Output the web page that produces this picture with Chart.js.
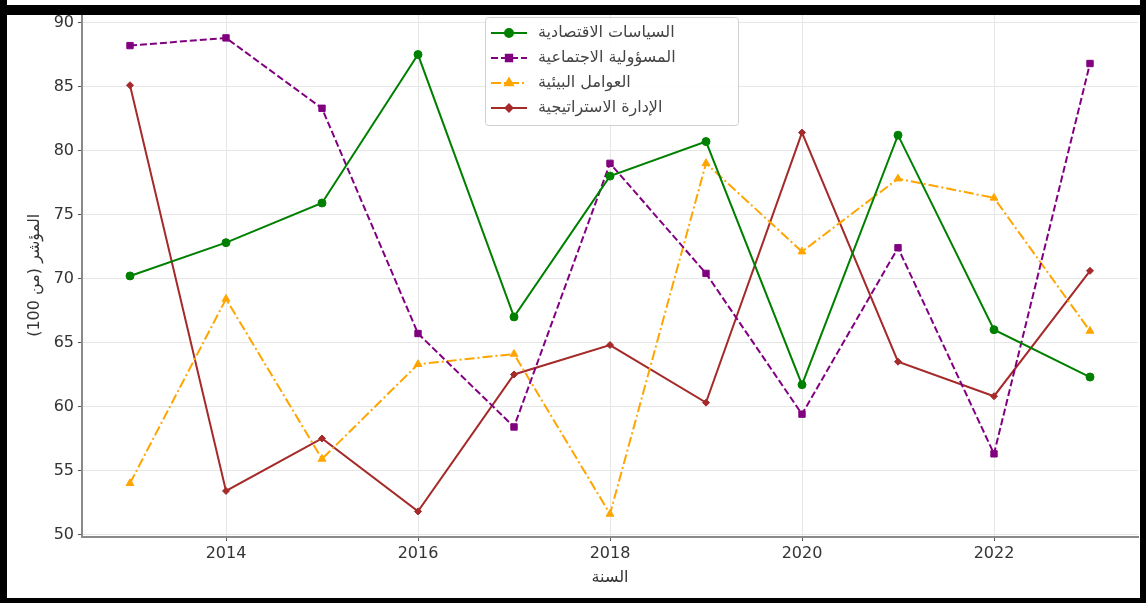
<!DOCTYPE html>
<html>
<head>
<meta charset="utf-8">
<script src="https://cdn.jsdelivr.net/npm/chart.js@4.4.1/dist/chart.umd.min.js"></script>
<style>
  html, body { margin: 0; padding: 0; background: #fff; }
  #wrap { position: relative; width: 1146px; height: 603px; overflow: hidden; }
  #chart1 { position: absolute; left: 0; top: 0; }
  .frame { position: absolute; background: #000; }
</style>
</head>
<body>
<div id="wrap">
  <canvas id="chart1" width="1146" height="603" dir="rtl"></canvas>
  <div class="frame" style="left:0;top:5px;width:1146px;height:10px"></div>
  <div class="frame" style="left:0;top:0;width:7px;height:603px"></div>
  <div class="frame" style="left:1140px;top:0;width:6px;height:603px"></div>
  <div class="frame" style="left:0;top:598px;width:1146px;height:5px"></div>
</div>
<script>
// years on the x axis
const years = [2013, 2014, 2015, 2016, 2017, 2018, 2019, 2020, 2021, 2022, 2023];

// series (index out of 100)
const economicPolicy = [70.2, 72.8, 75.9, 87.5, 67.0, 78.0, 80.7, 61.7, 81.2, 66.0, 62.3];
const socialResponsibility = [88.2, 88.8, 83.3, 65.7, 58.4, 79.0, 70.4, 59.4, 72.4, 56.3, 86.8];
const environmentalFactors = [54.0, 68.4, 55.9, 63.3, 64.1, 51.6, 79.0, 72.1, 77.8, 76.3, 65.9];
const strategicManagement = [85.1, 53.4, 57.5, 51.8, 62.5, 64.8, 60.3, 81.4, 63.5, 60.8, 70.6];

const seriesNames = ['السياسات الاقتصادية', 'المسؤولية الاجتماعية', 'العوامل البيئية', 'الإدارة الاستراتيجية'];

// tick labels
const xTicks = [2014, 2016, 2018, 2020, 2022];
const yTicks = [50, 55, 60, 65, 70, 75, 80, 85, 90];

const xTitle = 'السنة';
const yTitle = 'المؤشر (من 100)';

function toPoints(arr) {
  return arr.map((v, i) => ({ x: years[i], y: v }));
}

const datasets = [
  { label: seriesNames[0], data: toPoints(economicPolicy), borderColor: '#008000', backgroundColor: '#008000',
    pointStyle: 'circle', pointRadius: 4, borderDash: [] },
  { label: seriesNames[1], data: toPoints(socialResponsibility), borderColor: '#800080', backgroundColor: '#800080',
    pointStyle: 'rect', pointRadius: 4.5, borderDash: [7, 3] },
  { label: seriesNames[2], data: toPoints(environmentalFactors), borderColor: '#FFA500', backgroundColor: '#FFA500',
    pointStyle: 'triangle', pointRadius: 4.5, borderDash: [10, 3, 2, 3] },
  { label: seriesNames[3], data: toPoints(strategicManagement), borderColor: '#A52A2A', backgroundColor: '#A52A2A',
    pointStyle: 'rectRot', pointRadius: 3.5, borderDash: [] }
];
datasets.forEach(d => { d.borderWidth = 2; d.pointBorderWidth = 1; d.tension = 0; d.pointHoverRadius = d.pointRadius; });

/* legend drawn inside the plot, like the matplotlib one */
const boxLegend = {
  id: 'boxLegend',
  afterDraw(chart) {
    const ctx = chart.ctx;
    const x0 = 485, y0 = 17, w = 253, h = 108;
    ctx.save();
    ctx.fillStyle = 'rgba(255,255,255,0.85)';
    ctx.strokeStyle = '#d0d0d0';
    ctx.lineWidth = 1;
    ctx.beginPath();
    ctx.roundRect(x0 + 0.5, y0 + 0.5, w, h, 3);
    ctx.fill();
    ctx.stroke();
    chart.data.datasets.forEach((ds, i) => {
      const cy = y0 + 16 + i * 25;
      ctx.strokeStyle = ds.borderColor;
      ctx.lineWidth = 2;
      ctx.setLineDash(ds.borderDash);
      ctx.beginPath();
      ctx.moveTo(491, cy);
      ctx.lineTo(527, cy);
      ctx.stroke();
      ctx.setLineDash([]);
      ctx.fillStyle = ds.backgroundColor;
      Chart.helpers.drawPoint(ctx, { pointStyle: ds.pointStyle, radius: ds.pointRadius, rotation: 0, borderWidth: 1 }, 509, cy);
      ctx.fillStyle = '#444';
      ctx.font = '16px "DejaVu Sans"';
      ctx.textAlign = 'left';
      ctx.textBaseline = 'middle';
      ctx.direction = 'rtl';
      ctx.fillText(ds.label, 538, cy);
    });
    ctx.restore();
  }
};

const config = {
  type: 'line',
  data: { datasets: datasets },
  options: {
    responsive: false,
    animation: false,
    layout: { padding: { top: 12, right: 8, left: 0, bottom: 0 } },
    plugins: { legend: { display: false }, tooltip: { enabled: false } },
    scales: {
      x: {
        type: 'linear',
        min: 2012.5,
        max: 2023.5,
        afterBuildTicks: s => { s.ticks = xTicks.map(v => ({ value: v })); },
        afterFit: s => { s.height = 66; },
        grid: { color: '#e6e6e6', tickColor: '#555', tickLength: 4, lineWidth: 1 },
        border: { color: '#8a8a8a', width: 2 },
        ticks: { color: '#333', font: { family: 'DejaVu Sans', size: 16 }, padding: 3, callback: v => String(v) },
        title: { display: true, text: xTitle, color: '#333', font: { family: 'DejaVu Sans', size: 16 }, padding: { top: 0, bottom: 16 } }
      },
      y: {
        min: 49.8,
        max: 90.7,
        afterBuildTicks: s => { s.ticks = yTicks.map(v => ({ value: v })); },
        afterFit: s => { s.width = 82; },
        grid: { color: '#e6e6e6', tickColor: '#555', tickLength: 4, lineWidth: 1 },
        border: { color: '#8a8a8a', width: 2 },
        ticks: { color: '#333', font: { family: 'DejaVu Sans', size: 16 }, padding: 4 },
        title: { display: true, text: yTitle, color: '#333', font: { family: 'DejaVu Sans', size: 16 }, padding: { top: 25, bottom: 0 } }
      }
    }
  },
  plugins: [boxLegend]
};

const myChart = new Chart(document.getElementById('chart1'), config);
</script>
</body>
</html>
